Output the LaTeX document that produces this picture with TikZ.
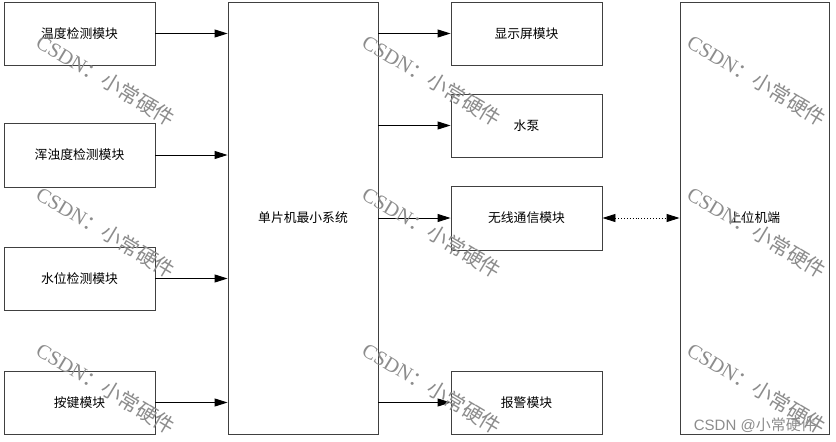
\documentclass[tikz,border=0pt]{standalone}
\usepackage{fontspec}
\setmainfont{Noto Sans CJK SC}
\newfontfamily\cjk{Noto Sans CJK SC}
\newfontfamily\wmserif{Liberation Serif}
\newfontfamily\wmsans{Liberation Sans}
\usetikzlibrary{arrows.meta}
\begin{document}
\begin{tikzpicture}[x=1pt,y=-1pt,
  box/.style={draw=black!75,line width=0.9pt,fill=white,font=\cjk\fontsize{12.8}{14}\selectfont,inner sep=0pt},
  conn/.style={line width=0.9pt,-{Triangle[length=13pt,width=8pt]}},
  dconn/.style={line width=0.9pt,dotted,{Triangle[length=13pt,width=8pt]}-{Triangle[length=13pt,width=8pt]}},
  wm/.style={text=black!45,rotate=-31,font=\fontsize{20.5}{22}\selectfont,inner sep=0pt}]
\useasboundingbox[fill=white] (0,0) rectangle (836,442);
% left
\node[box,minimum width=151pt,minimum height=63pt] (b1) at (79.5,33.5) {温度检测模块};
\node[box,minimum width=151pt,minimum height=64pt] (b2) at (79.5,155) {浑浊度检测模块};
\node[box,minimum width=151pt,minimum height=63pt] (b3) at (79.5,278.5) {水位检测模块};
\node[box,minimum width=151pt,minimum height=63pt] (b4) at (79.5,402.5) {按键模块};
% center
\node[box,minimum width=150pt,minimum height=432pt] (c) at (303,218) {单片机最小系统};
% right
\node[box,minimum width=151pt,minimum height=63pt] (r1) at (526.5,33.5) {显示屏模块};
\node[box,minimum width=151pt,minimum height=63pt] (r2) at (526.5,125.5) {水泵};
\node[box,minimum width=151pt,minimum height=64pt] (r3) at (526.5,218) {无线通信模块};
\node[box,minimum width=151pt,minimum height=63pt] (r4) at (526.5,402.5) {报警模块};
% far right
\node[box,minimum width=149pt,minimum height=432pt] (p) at (754.5,218) {上位机端};
% connectors
\draw[conn] (b1.east) -- (b1.east -| c.west);
\draw[conn] (b2.east) -- (b2.east -| c.west);
\draw[conn] (b3.east) -- (b3.east -| c.west);
\draw[conn] (b4.east) -- (b4.east -| c.west);
\draw[conn] (c.east |- r1.west) -- (r1.west);
\draw[conn] (c.east |- r2.west) -- (r2.west);
\draw[conn] (c.east |- r3.west) -- (r3.west);
\draw[conn] (c.east |- r4.west) -- (r4.west);
\draw[dconn] (r3.east) -- (r3.east -| p.west);
% watermarks
\foreach \cx in {106,432,757}{
  \foreach \cy in {80,232,388}{
    \node[wm] (w\cx\cy) at (\cx,\cy) {{\wmserif CSDN}：小常硬件};
  }
}
\node[text=black!45,font=\fontsize{15}{17}\selectfont,anchor=south east,inner sep=0pt] (credit) at (816,433) {{\wmsans CSDN @}小常硬件};
\end{tikzpicture}
\end{document}
